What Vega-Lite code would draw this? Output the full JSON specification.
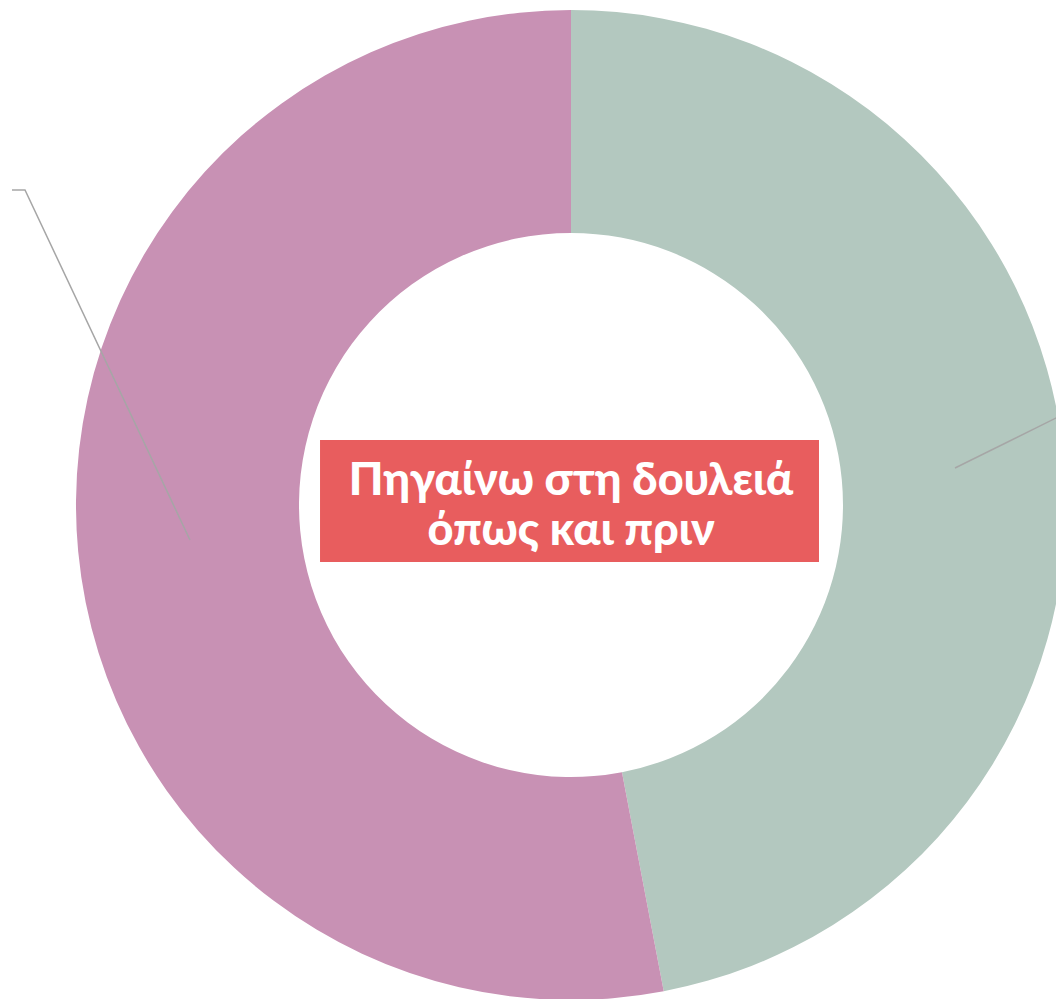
{
  "$schema": "https://vega.github.io/schema/vega-lite/v6.json",
  "width": 1056,
  "height": 999,
  "padding": 0,
  "autosize": {"type": "none"},
  "background": "white",
  "config": {"view": {"stroke": null}},
  "layer": [
    {
      "data": {"values": [
        {"category": "Πηγαίνω στη δουλειά όπως και πριν", "value": 47, "order": 1},
        {"category": "Άλλο", "value": 53, "order": 2}
      ]},
      "mark": {"type": "arc", "outerRadius": 495, "innerRadius": 272},
      "encoding": {
        "theta": {"field": "value", "type": "quantitative", "stack": true},
        "order": {"field": "order", "type": "quantitative"},
        "color": {"field": "category", "type": "nominal", "legend": null,
          "scale": {"domain": ["Πηγαίνω στη δουλειά όπως και πριν", "Άλλο"], "range": ["#b3c8bf", "#c891b4"]}},
        "x": {"datum": 0, "type": "quantitative", "scale": {"domain": [-1.1535, 0.9798], "zero": false, "nice": false}, "axis": null},
        "y": {"datum": 0, "type": "quantitative", "scale": {"domain": [-0.998, 1.0202], "zero": false, "nice": false}, "axis": null}
      }
    },
    {
      "data": {"values": [
        {"line": "a", "i": 1, "px": -0.7697, "py": -0.0707},
        {"line": "a", "i": 2, "px": -1.1030, "py": 0.6364},
        {"line": "a", "i": 3, "px": -1.1293, "py": 0.6364},
        {"line": "b", "i": 1, "px": 0.7758, "py": 0.0747},
        {"line": "b", "i": 2, "px": 0.9980, "py": 0.1848}
      ]},
      "mark": {"type": "line", "stroke": "#a6a6a6", "strokeWidth": 1.5},
      "encoding": {
        "x": {"field": "px", "type": "quantitative", "scale": {"domain": [-1.1535, 0.9798], "zero": false, "nice": false}, "axis": null},
        "y": {"field": "py", "type": "quantitative", "scale": {"domain": [-0.998, 1.0202], "zero": false, "nice": false}, "axis": null},
        "detail": {"field": "line", "type": "nominal"},
        "order": {"field": "i", "type": "quantitative"}
      }
    },
    {
      "data": {"values": [{"x1": -0.507, "x2": 0.501, "y1": 0.1313, "y2": -0.1152}]},
      "mark": {"type": "rect", "color": "#e85d5e"},
      "encoding": {
        "x": {"field": "x1", "type": "quantitative", "axis": null},
        "x2": {"field": "x2"},
        "y": {"field": "y1", "type": "quantitative", "axis": null},
        "y2": {"field": "y2"}
      }
    },
    {
      "data": {"values": [{"tx": 0.0, "ty": 0.048, "label": "Πηγαίνω στη δουλειά\nόπως και πριν"}]},
      "mark": {"type": "text", "color": "white", "font": "Lato", "fontWeight": 900, "fontSize": 45, "lineHeight": 50, "lineBreak": "\n", "align": "center", "baseline": "middle"},
      "encoding": {
        "x": {"field": "tx", "type": "quantitative", "axis": null},
        "y": {"field": "ty", "type": "quantitative", "axis": null},
        "text": {"field": "label"}
      }
    }
  ]
}
